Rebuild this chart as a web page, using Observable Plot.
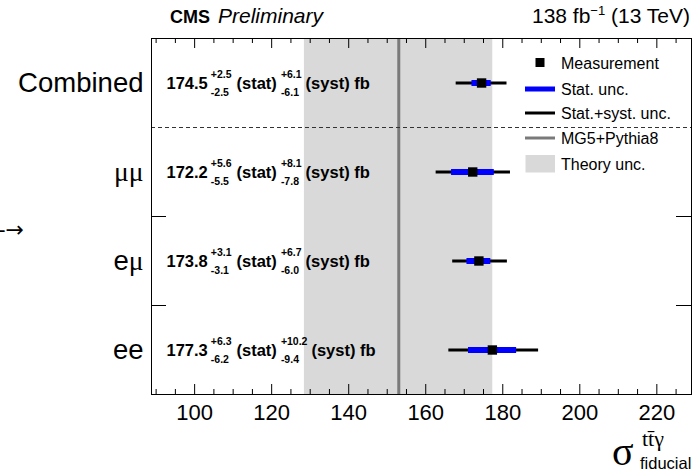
<!DOCTYPE html>
<html><head><meta charset="utf-8">
<script src="https://cdn.jsdelivr.net/npm/d3@7"></script>
<script src="https://cdn.jsdelivr.net/npm/@observablehq/plot@0.6"></script>
<style>body{margin:0;background:#fff;}</style>
</head><body><div id="chart"></div>
<script>
// ---- data ----
const channels = ["Combined", "μμ", "eμ", "ee"];
const central = [174.5, 172.2, 173.8, 177.3];
const statUp = [2.5, 5.6, 3.1, 6.3];
const statDown = [2.5, 5.5, 3.1, 6.2];
const systUp = [6.1, 8.1, 6.7, 10.2];
const systDown = [6.1, 7.8, 6.0, 9.4];
const totalUp = [6.6, 9.8, 7.4, 12.0];
const totalDown = [6.6, 9.5, 6.8, 11.3];
const theoryCentral = 153.0;
const theoryLow = 128.5;
const theoryHigh = 177.4;
const xTicks = [100, 120, 140, 160, 180, 200, 220];
const minorTicks = [90, 95, 105, 110, 115, 125, 130, 135, 145, 150, 155, 165, 170, 175, 185, 190, 195, 205, 210, 215, 225];
const legendLabels = ["Measurement", "Stat. unc.", "Stat.+syst. unc.", "MG5+Pythia8", "Theory unc."];

// ---- layout ----
const FONT = "'Liberation Sans', Arial, Helvetica, sans-serif";
const SERIF = "'Liberation Serif', 'Times New Roman', serif";
const W = 693, H = 475;
const M = {top: 38, right: 2, bottom: 81, left: 151};
const innerW = W - M.left - M.right;
const innerH = H - M.top - M.bottom;

const rows = channels.map((c, i) => ({
  i, name: c, v: central[i],
  sLo: central[i] - statDown[i], sHi: central[i] + statUp[i],
  tLo: central[i] - totalDown[i], tHi: central[i] + totalUp[i]
}));

const plot = Plot.plot({
  width: W, height: H,
  marginTop: M.top, marginRight: M.right, marginBottom: M.bottom, marginLeft: M.left,
  style: {fontFamily: FONT, background: "white", overflow: "visible", color: "black"},
  x: {domain: [88.8, 229]},
  y: {domain: [-0.5, 3.5], reverse: true},
  marks: [
    Plot.rect([0], {x1: theoryLow, x2: theoryHigh, y1: -0.5, y2: 3.5, fill: "#d9d9d9"}),
    Plot.ruleX([theoryCentral], {stroke: "#7a7a7a", strokeWidth: 3}),
    Plot.ruleY([0.5], {stroke: "#333", strokeWidth: 1, strokeDasharray: "4,3"}),
    Plot.ruleY(rows, {y: "i", x1: "tLo", x2: "tHi", stroke: "black", strokeWidth: 3}),
    Plot.ruleY(rows, {y: "i", x1: "sLo", x2: "sHi", stroke: "#0000ff", strokeWidth: 6}),
    Plot.dot(rows, {x: "v", y: "i", symbol: "square", r: 5.3, fill: "black"}),
    Plot.ruleX(xTicks, {insetTop: innerH - 10, stroke: "black"}),
    Plot.ruleX(xTicks, {insetBottom: innerH - 10, stroke: "black"}),
    Plot.ruleX(minorTicks, {insetTop: innerH - 5, stroke: "black"}),
    Plot.ruleX(minorTicks, {insetBottom: innerH - 5, stroke: "black"}),
    Plot.ruleY([1.5, 2.5], {insetRight: innerW - 15, stroke: "black"}),
    Plot.ruleY([1.5, 2.5], {insetLeft: innerW - 15, stroke: "black"}),
    Plot.axisX({ticks: xTicks, tickSize: 0, tickPadding: 10, fontSize: 22, label: null}),
    Plot.axisY({ticks: [0, 1, 2, 3], tickFormat: i => channels[i], tickSize: 0, tickPadding: 8, fontSize: 27.5, label: null}),
    Plot.frame({stroke: "black", strokeWidth: 1})
  ]
});
document.getElementById("chart").append(plot);
const svg = d3.select(plot);

// serif mu in y labels
svg.selectAll('g[aria-label="y-axis tick label"] text').each(function() {
  const t = d3.select(this); const s = t.text(); t.text("");
  for (const ch of s) {
    const sp = t.append("tspan").text(ch);
    if (ch === "μ") sp.attr("font-family", SERIF);
  }
});

const ys = plot.scale("y");

// result annotations
const ann = svg.append("g").attr("font-family", FONT).attr("font-weight", "bold")
  .attr("fill", "black").attr("text-anchor", "start");
rows.forEach((r, i) => {
  const yc = ys.apply(i);
  let x = M.left + 15.5;
  const main = (s, gap) => {
    const t = ann.append("text").attr("x", x).attr("y", yc + 6.5).attr("font-size", 16.5).text(s);
    x += t.node().getComputedTextLength() + gap;
  };
  const stack = (up, dn, gap) => {
    const a = ann.append("text").attr("x", x).attr("y", yc - 4.5).attr("font-size", 10.5).text(up);
    const b = ann.append("text").attr("x", x).attr("y", yc + 13.5).attr("font-size", 10.5).text(dn);
    x += Math.max(a.node().getComputedTextLength(), b.node().getComputedTextLength()) + gap;
  };
  main(central[i].toFixed(1), 3);
  stack("+" + statUp[i].toFixed(1), "-" + statDown[i].toFixed(1), 5);
  main("(stat)", 4);
  stack("+" + systUp[i].toFixed(1), "-" + systDown[i].toFixed(1), 4);
  main("(syst) fb", 0);
});

// legend
const lg = svg.append("g").attr("font-family", FONT).attr("font-size", 16).attr("text-anchor", "start");
const ly = [62.5, 89, 113, 138, 163.5];
const lx0 = 525, lx1 = 555, tx = 561;
lg.append("rect").attr("x", 535.5).attr("y", ly[0] - 4.5).attr("width", 9).attr("height", 9).attr("fill", "black");
lg.append("line").attr("x1", lx0).attr("x2", lx1).attr("y1", ly[1]).attr("y2", ly[1]).attr("stroke", "#0000ff").attr("stroke-width", 5);
lg.append("line").attr("x1", lx0).attr("x2", lx1).attr("y1", ly[2]).attr("y2", ly[2]).attr("stroke", "black").attr("stroke-width", 3);
lg.append("line").attr("x1", lx0).attr("x2", lx1).attr("y1", ly[3]).attr("y2", ly[3]).attr("stroke", "#7a7a7a").attr("stroke-width", 3);
lg.append("rect").attr("x", lx0 + 0.5).attr("y", ly[4] - 8.5).attr("width", 29.5).attr("height", 17.5).attr("fill", "#d9d9d9");
legendLabels.forEach((s, k) => {
  lg.append("text").attr("x", tx).attr("y", ly[k] + 6).text(s);
});

// header
const hd = svg.append("g").attr("font-family", FONT).attr("fill", "black").attr("text-anchor", "start");
hd.append("text").attr("x", 170).attr("y", 23).attr("font-size", 18).attr("font-weight", "bold").text("CMS");
hd.append("text").attr("x", 218).attr("y", 23).attr("font-size", 21).attr("font-style", "italic").text("Preliminary");
const lum = hd.append("text").attr("x", 690).attr("y", 23).attr("font-size", 21).attr("text-anchor", "end");
lum.append("tspan").text("138 fb");
lum.append("tspan").attr("dy", -8).attr("font-size", 13).text("−1");
lum.append("tspan").attr("dy", 8).text(" (13 TeV)");

// x-axis title
const xt = svg.append("g").attr("fill", "black").attr("text-anchor", "start");
xt.append("text").attr("x", 612).attr("y", 465).attr("font-family", SERIF).attr("font-size", 40).text("σ");
xt.append("text").attr("x", 642).attr("y", 446).attr("font-family", SERIF).attr("font-size", 22).text("tt\u0304γ");
xt.append("text").attr("x", 640).attr("y", 469).attr("font-family", FONT).attr("font-size", 16.5).text("fiducial");

// cut-off arrow on the left
svg.append("text").attr("x", 24).attr("y", 237).attr("text-anchor", "end").attr("font-family", "'DejaVu Sans', sans-serif")
  .attr("font-size", 22).attr("fill", "black").text("-→");
</script>
</body></html>
